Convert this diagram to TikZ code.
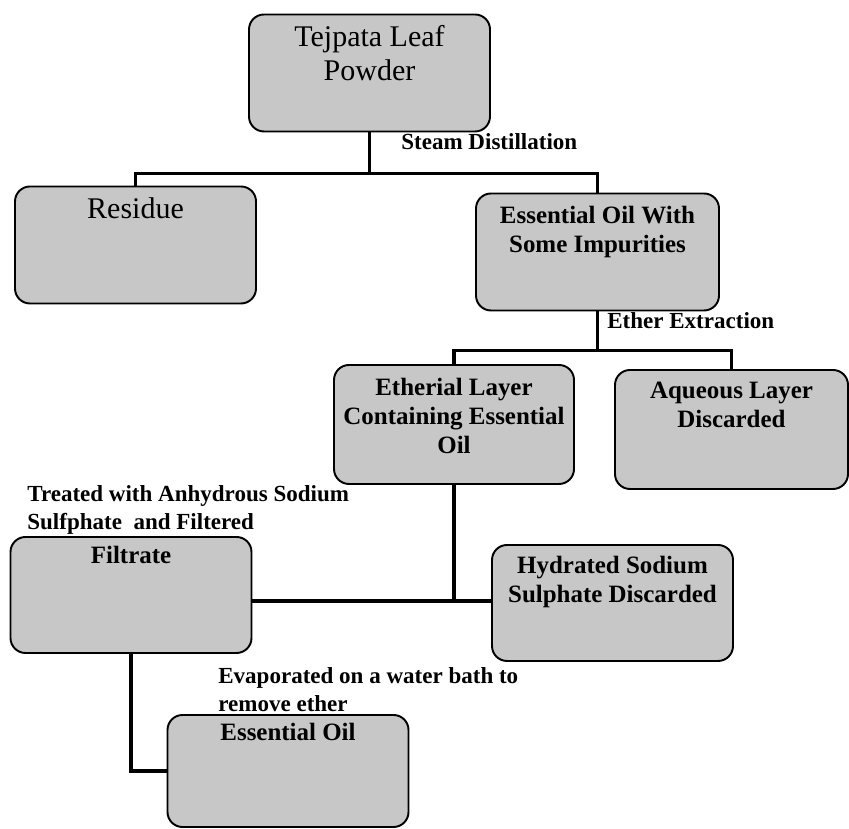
\documentclass[tikz,border=0pt]{standalone}
\usepackage{fontspec}
\setmainfont{Liberation Serif}
\usetikzlibrary{positioning}

\begin{document}
\begin{tikzpicture}[
    stage/.style={draw, line width=1.1pt, rounded corners=0.3cm, fill=black!22,
        minimum width=4.82cm, minimum height=2.34cm, inner sep=0pt},
    stagetxt/.style={align=center, inner sep=0pt,
        font=\fontsize{14.2}{16.5}\selectfont\bfseries},
    plaintxt/.style={align=center, inner sep=0pt,
        font=\fontsize{17.07}{18.8}\selectfont},
    steplabel/.style={align=left, inner sep=0pt,
        font=\fontsize{13.1}{15.9}\selectfont\bfseries},
    link/.style={line width=1.8pt}
]
    \useasboundingbox (0,0) rectangle (16.98,16.58);

    % raw material
    \node[stage] (tej) at (7.39,15.12) {};
    \node[plaintxt, below=0.24cm of tej.north] (tejtxt) {Tejpata Leaf\\Powder};

    % after steam distillation
    \node[stage] (res) at (2.71,11.68) {};
    \node[plaintxt, below=0.24cm of res.north] (restxt) {Residue};
    \node[stage, minimum width=4.86cm] (eow) at (11.95,11.54) {};
    \node[stagetxt, below=0.26cm of eow.north] (eowtxt) {Essential Oil With\\Some Impurities};

    % after ether extraction
    \node[stage, minimum width=4.8cm, minimum height=2.38cm] (eth) at (9.08,8.09) {};
    \node[stagetxt, below=0.28cm of eth.north] (ethtxt) {Etherial Layer\\Containing Essential\\Oil};
    \node[stage, minimum width=4.66cm, minimum height=2.38cm] (aq) at (14.63,7.99) {};
    \node[stagetxt, below=0.26cm of aq.north] (aqtxt) {Aqueous Layer\\Discarded};

    % after drying
    \node[stage, minimum height=2.32cm] (fil) at (2.62,4.68) {};
    \node[stagetxt, below=0.2cm of fil.north] (filtxt) {Filtrate};
    \node[stage, minimum height=2.32cm] (hyd) at (12.25,4.52) {};
    \node[stagetxt, below=0.24cm of hyd.north] (hydtxt) {Hydrated Sodium\\Sulphate Discarded};

    % final product
    \node[stage, minimum height=2.24cm] (efin) at (5.76,1.16) {};
    \node[stagetxt, below=0.18cm of efin.north] (efintxt) {Essential Oil};

    % split points
    \coordinate (split1) at ([yshift=-0.82cm]tej.south);
    \coordinate (split2) at ([yshift=-0.78cm]eow.south);
    \coordinate (split3) at ([yshift=-2.32cm]eth.south);

    % connectors
    \draw[link] (tej.south) -- (split1);
    \draw[link] (res.north) |- (split1) -| (eow.north);
    \draw[link] (eow.south) -- (split2);
    \draw[link] (eth.north) |- (split2) -| (aq.north);
    \draw[link] (eth.south) -- (split3);
    \draw[link] (fil.east |- split3) -- (hyd.west |- split3);
    \draw[link] (fil.south) |- (efin.west);

    % step labels
    \node[steplabel, anchor=base west] (steam) at (8.02,13.58) {Steam Distillation};
    \node[steplabel, anchor=base west] (ether) at (12.14,10.0) {Ether Extraction};
    \node[steplabel, anchor=north west] (treat) at (0.54,6.88)
        {Treated with Anhydrous Sodium\\Sulfphate\ \ and Filtered};
    \node[steplabel, anchor=north west] (evap) at (4.36,3.23)
        {Evaporated on a water bath to\\remove ether};

\end{tikzpicture}
\end{document}
